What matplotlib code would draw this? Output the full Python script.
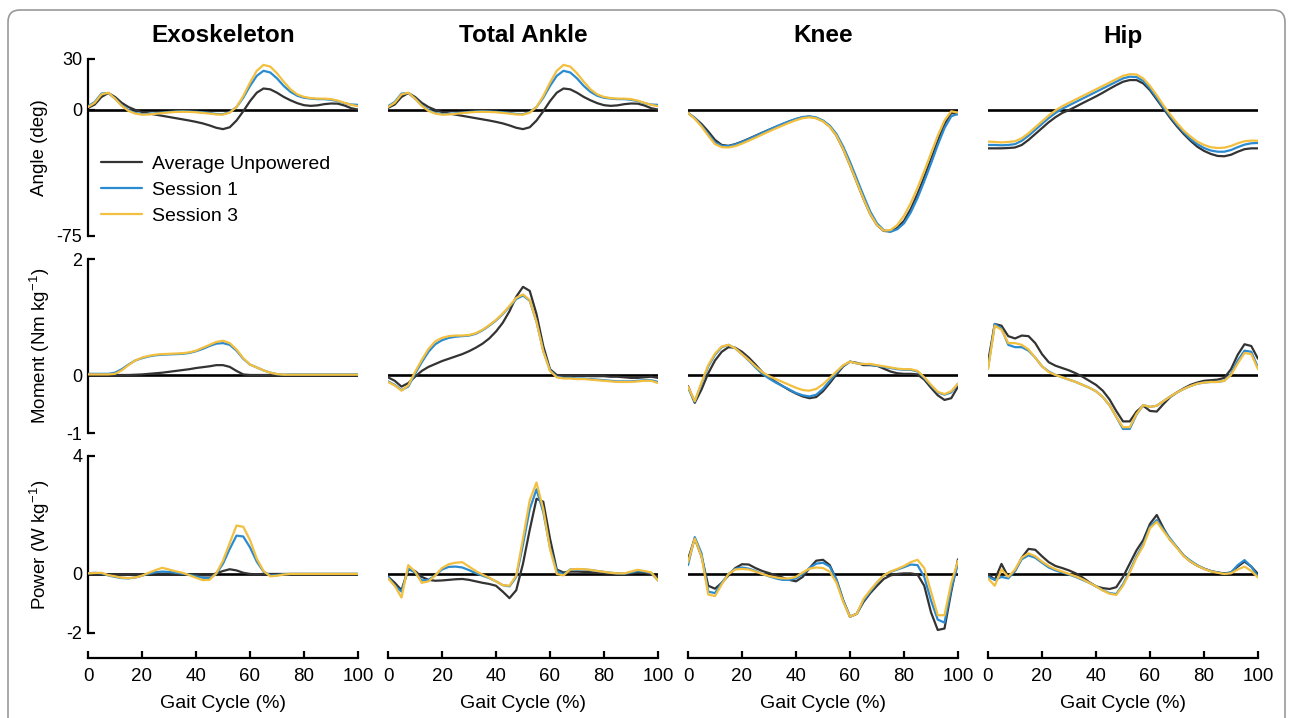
import numpy as np
import matplotlib
matplotlib.use("Agg")
import matplotlib.pyplot as plt
from matplotlib.patches import FancyBboxPatch

plt.rcParams['font.family'] = ['Liberation Sans', 'DejaVu Sans']
plt.rcParams['mathtext.fontset'] = 'custom'
plt.rcParams['mathtext.rm'] = 'Liberation Sans'
plt.rcParams['axes.unicode_minus'] = False

# gait cycle sample points (%)
gait = np.linspace(0, 100, 41)

joints = ["Exoskeleton", "Total Ankle", "Knee", "Hip"]
series_names = ["Average Unpowered", "Session 1", "Session 3"]
row_labels = ["Angle (deg)", "Moment (Nm kg$^{-1}$)", "Power (W kg$^{-1}$)"]

# ---- angles (deg) ----
exo_angle_unp = [1, 3, 7.5, 9.8, 7.5, 4, 1.5, -0.2, -1.5, -2.3, -3, -3.7, -4.4, -5.1, -5.8, -6.5, -7.3, -8.2, -9.4, -10.8,
                 -11.6, -10.5, -6.5, -1, 5, 10, 12.5, 12, 10, 7.5, 5.5, 3.8, 2.6, 2.2, 2.5, 3.2, 3.6, 3.5, 2.4, 0.8, 0]
exo_angle_s1 = [2, 4.5, 9.5, 9.8, 6.5, 2.5, -0.3, -2, -2.7, -2.6, -2.2, -1.8, -1.4, -1.1, -1, -1.1, -1.3, -1.6, -2, -2.6,
                -2.7, -1.5, 1.5, 7, 14, 20, 23, 22, 18.5, 14, 10.5, 8.2, 7, 6.5, 6.2, 6.2, 5.8, 5, 3.8, 3, 2.8]
exo_angle_s3 = [1.5, 4, 9, 10, 6.5, 2.2, -0.8, -2.4, -3, -2.9, -2.5, -2.1, -1.7, -1.4, -1.3, -1.4, -1.6, -2, -2.4, -2.9,
                -3, -1.8, 1.5, 8, 16, 23, 26.5, 25.5, 21.5, 16.5, 12, 9, 7.5, 6.8, 6.5, 6.5, 6.2, 5.3, 4, 2.8, 2]
# total ankle angle follows the exoskeleton angle
ankle_angle_unp = exo_angle_unp
ankle_angle_s1 = exo_angle_s1
ankle_angle_s3 = exo_angle_s3
knee_angle_unp = [-2, -5, -8.5, -13, -18, -21, -21.5, -20.5, -19, -17.3, -15.5, -13.7, -12, -10.3, -8.7, -7.1, -5.7, -4.6, -4.2, -5,
                  -6.8, -10, -15.5, -23.5, -33, -43, -53, -62, -68.5, -72, -72.3, -70.2, -66, -59, -50, -40, -29.5, -18.5, -8.5, -2, -2.8]
knee_angle_s1 = [-2, -5, -9.5, -14.5, -19.5, -21.5, -21.7, -20.7, -19.2, -17.5, -15.7, -13.8, -12, -10.2, -8.5, -6.9, -5.5, -4.4, -4, -4.7,
                 -6.5, -9.5, -14.5, -22, -31, -41, -51, -60.5, -67.5, -71.5, -72.5, -71, -67.5, -61, -52.5, -42.5, -32, -21, -11, -4, -2.5]
knee_angle_s3 = [-2, -5.5, -10, -15.5, -20.5, -22.3, -22.5, -21.7, -20.2, -18.5, -16.7, -14.8, -13, -11.2, -9.5, -7.8, -6.3, -5.1, -4.6, -5.2,
                 -7, -10.2, -15.5, -23.5, -33, -43, -53, -62, -68.5, -71.8, -71.5, -68.5, -63, -55.5, -46.5, -36.5, -26, -15.5, -6.5, -1, -1.8]
hip_angle_unp = [-23, -23, -23, -22.8, -22.5, -21, -18, -14.5, -11, -7.5, -4.5, -2, -0.3, 1.7, 3.8, 5.8, 7.8, 10, 12.3, 14.5,
                 16.5, 17.5, 17.5, 15.5, 11.5, 6, 0.5, -5, -10, -14.5, -18.5, -22, -24.5, -26.3, -27.5, -27.7, -26.8, -25, -23.5, -23, -23]
hip_angle_s1 = [-21, -21, -21.2, -21, -20.5, -18.5, -15.5, -12, -8.5, -5, -2, 0.5, 2.5, 4.5, 6.5, 8.5, 10.5, 12.5, 14.5, 16.5,
                18.5, 19.5, 19.3, 17, 12.5, 7, 1.2, -4, -9, -13.5, -17.5, -20.5, -22.8, -24.3, -25, -25, -24, -22.3, -20.8, -20, -19.8]
hip_angle_s3 = [-19, -19.2, -19.5, -19.2, -18.8, -17, -14, -10.5, -7, -3.5, -0.5, 2, 4, 6, 8, 10, 12, 14, 16, 18,
                20, 21, 20.8, 18.5, 14, 8.5, 2.5, -3, -8, -12.5, -16, -19, -21, -22.3, -22.8, -22.6, -21.6, -20, -18.8, -18.4, -18.5]

# ---- moments (Nm/kg) ----
exo_mom_unp = [0, 0, 0, 0, 0, 0, 0, 0.005, 0.01, 0.02, 0.03, 0.04, 0.055, 0.07, 0.085, 0.1, 0.12, 0.135, 0.15, 0.17,
               0.17, 0.14, 0.07, 0.01, 0, 0, 0, 0, 0, 0, 0, 0, 0, 0, 0, 0, 0, 0, 0, 0, 0]
exo_mom_s1 = [0.02, 0.02, 0.02, 0.02, 0.04, 0.1, 0.18, 0.25, 0.29, 0.32, 0.34, 0.35, 0.355, 0.36, 0.365, 0.38, 0.41, 0.45, 0.5, 0.54,
              0.55, 0.52, 0.42, 0.28, 0.18, 0.13, 0.08, 0.04, 0.015, 0.005, 0.01, 0.01, 0.01, 0.01, 0.01, 0.01, 0.01, 0.01, 0.01, 0.01, 0.01]
exo_mom_s3 = [0.01, 0.01, 0.01, 0.01, 0.02, 0.08, 0.17, 0.25, 0.3, 0.33, 0.35, 0.36, 0.365, 0.37, 0.375, 0.39, 0.42, 0.47, 0.52, 0.57,
              0.59, 0.55, 0.44, 0.29, 0.18, 0.13, 0.08, 0.04, 0.015, 0.005, 0.005, 0.005, 0.005, 0.005, 0.005, 0.005, 0.005, 0.005, 0.005, 0.005, 0.005]
ankle_mom_unp = [-0.04, -0.1, -0.2, -0.14, -0.03, 0.07, 0.14, 0.19, 0.24, 0.28, 0.32, 0.36, 0.41, 0.47, 0.54, 0.63, 0.75, 0.9, 1.1, 1.35,
                 1.52, 1.45, 1.05, 0.5, 0.1, 0.0, -0.01, -0.01, -0.01, -0.01, -0.02, -0.02, -0.02, -0.03, -0.03, -0.04, -0.05, -0.05, -0.04, -0.03, -0.05]
ankle_mom_s1 = [-0.11, -0.17, -0.26, -0.2, 0.02, 0.22, 0.4, 0.53, 0.6, 0.64, 0.66, 0.67, 0.68, 0.71, 0.77, 0.85, 0.94, 1.05, 1.18, 1.31,
                1.37, 1.28, 0.92, 0.42, 0.08, -0.03, -0.05, -0.05, -0.06, -0.06, -0.07, -0.08, -0.09, -0.1, -0.11, -0.11, -0.11, -0.1, -0.09, -0.09, -0.12]
ankle_mom_s3 = [-0.12, -0.18, -0.27, -0.18, 0.05, 0.26, 0.45, 0.58, 0.64, 0.67, 0.68, 0.68, 0.69, 0.72, 0.78, 0.86, 0.95, 1.06, 1.19, 1.33,
                1.39, 1.29, 0.92, 0.41, 0.07, -0.04, -0.06, -0.06, -0.07, -0.07, -0.08, -0.09, -0.1, -0.11, -0.12, -0.12, -0.12, -0.11, -0.1, -0.1, -0.14]
knee_mom_unp = [-0.19, -0.48, -0.25, 0.03, 0.25, 0.4, 0.48, 0.47, 0.4, 0.3, 0.18, 0.05, -0.04, -0.12, -0.19, -0.26, -0.32, -0.37, -0.4, -0.38,
                -0.28, -0.14, 0.01, 0.15, 0.23, 0.21, 0.17, 0.17, 0.16, 0.11, 0.06, 0.03, 0.02, 0.02, 0.01, -0.08, -0.22, -0.35, -0.43, -0.4, -0.2]
knee_mom_s1 = [-0.22, -0.46, -0.15, 0.15, 0.35, 0.48, 0.52, 0.46, 0.36, 0.25, 0.13, 0.02, -0.06, -0.13, -0.19, -0.25, -0.31, -0.35, -0.37, -0.34,
               -0.24, -0.1, 0.04, 0.16, 0.23, 0.2, 0.19, 0.18, 0.16, 0.14, 0.12, 0.1, 0.09, 0.09, 0.06, -0.05, -0.18, -0.3, -0.34, -0.3, -0.15]
knee_mom_s3 = [-0.2, -0.45, -0.13, 0.17, 0.37, 0.49, 0.52, 0.46, 0.36, 0.26, 0.15, 0.05, -0.02, -0.07, -0.12, -0.17, -0.22, -0.26, -0.27, -0.24,
               -0.16, -0.05, 0.06, 0.17, 0.23, 0.2, 0.19, 0.19, 0.17, 0.15, 0.13, 0.11, 0.1, 0.1, 0.07, -0.04, -0.17, -0.29, -0.33, -0.28, -0.15]
hip_mom_unp = [0.22, 0.88, 0.85, 0.67, 0.63, 0.68, 0.67, 0.55, 0.36, 0.22, 0.16, 0.12, 0.08, 0.03, -0.03, -0.1, -0.17, -0.27, -0.42, -0.62,
               -0.8, -0.8, -0.63, -0.53, -0.62, -0.63, -0.5, -0.38, -0.3, -0.23, -0.17, -0.13, -0.1, -0.09, -0.08, -0.05, 0.1, 0.35, 0.53, 0.5, 0.28]
hip_mom_s1 = [0.12, 0.88, 0.8, 0.52, 0.48, 0.48, 0.42, 0.3, 0.15, 0.06, 0.0, -0.04, -0.08, -0.12, -0.17, -0.22, -0.28, -0.38, -0.52, -0.72,
              -0.93, -0.93, -0.68, -0.52, -0.55, -0.53, -0.45, -0.37, -0.3, -0.24, -0.19, -0.15, -0.13, -0.12, -0.12, -0.1, 0.02, 0.25, 0.42, 0.4, 0.13]
hip_mom_s3 = [0.1, 0.85, 0.78, 0.55, 0.55, 0.52, 0.44, 0.3, 0.15, 0.05, 0.0, -0.04, -0.08, -0.12, -0.17, -0.22, -0.28, -0.38, -0.52, -0.72,
              -0.9, -0.9, -0.67, -0.52, -0.55, -0.53, -0.45, -0.37, -0.3, -0.24, -0.19, -0.15, -0.13, -0.12, -0.12, -0.1, 0.0, 0.2, 0.38, 0.36, 0.1]

# ---- powers (W/kg) ----
exo_pow_unp = [0, 0.01, 0.01, -0.03, -0.04, -0.04, -0.03, -0.02, -0.01, 0, 0.01, 0.01, 0.01, 0, -0.01, -0.02, -0.03, -0.05, -0.05, 0.02,
               0.1, 0.16, 0.12, 0.04, 0, -0.01, 0, 0, 0, 0, 0, 0, 0, 0, 0, 0, 0, 0, 0, 0, 0]
exo_pow_s1 = [0.02, 0.04, 0.02, -0.05, -0.1, -0.14, -0.15, -0.12, -0.06, 0.01, 0.06, 0.08, 0.07, 0.04, 0.01, -0.03, -0.08, -0.13, -0.14, 0.0,
              0.35, 0.85, 1.3, 1.27, 0.9, 0.42, 0.08, -0.05, -0.04, -0.01, 0, 0, 0, 0, 0, 0, 0, 0, 0, 0, 0]
exo_pow_s3 = [0.02, 0.03, 0.04, -0.04, -0.08, -0.13, -0.14, -0.12, -0.06, 0.04, 0.13, 0.21, 0.15, 0.09, 0.04, -0.04, -0.13, -0.21, -0.2, 0.02,
              0.45, 1.05, 1.64, 1.6, 1.15, 0.52, 0.1, -0.08, -0.06, -0.02, 0, 0, 0, 0, 0, 0, 0, 0, 0, 0, 0]
ankle_pow_unp = [-0.09, -0.3, -0.55, 0.15, 0.1, -0.1, -0.2, -0.23, -0.22, -0.2, -0.18, -0.17, -0.2, -0.25, -0.3, -0.34, -0.4, -0.6, -0.82, -0.55,
                 0.35, 1.5, 2.55, 2.45, 1.2, 0.15, 0.05, 0.08, 0.08, 0.07, 0.06, 0.04, 0.02, 0.01, 0, -0.01, 0.02, 0.04, 0.03, 0.0, -0.12]
ankle_pow_s1 = [-0.1, -0.4, -0.6, 0.18, 0.05, -0.22, -0.2, -0.05, 0.15, 0.24, 0.25, 0.22, 0.13, 0.03, -0.06, -0.14, -0.25, -0.38, -0.42, -0.1,
                1.0, 2.2, 2.87, 2.1, 0.9, 0.1, -0.02, 0.15, 0.16, 0.15, 0.13, 0.1, 0.07, 0.04, 0.02, 0.01, 0.05, 0.1, 0.08, 0.03, -0.22]
ankle_pow_s3 = [-0.15, -0.4, -0.8, 0.3, 0.08, -0.3, -0.25, -0.05, 0.2, 0.33, 0.38, 0.4, 0.25, 0.1, -0.02, -0.13, -0.25, -0.38, -0.4, -0.05,
                1.2, 2.5, 3.1, 2.2, 0.85, 0.0, -0.05, 0.15, 0.17, 0.16, 0.14, 0.1, 0.07, 0.04, 0.02, 0.02, 0.08, 0.14, 0.1, 0.05, -0.22]
knee_pow_unp = [0.5, 1.2, 0.6, -0.4, -0.5, -0.3, -0.05, 0.2, 0.33, 0.32, 0.2, 0.1, 0.03, -0.05, -0.12, -0.2, -0.25, -0.1, 0.2, 0.45,
                0.48, 0.3, -0.2, -0.9, -1.45, -1.35, -0.95, -0.65, -0.4, -0.17, -0.05, 0.0, 0.02, 0.02, -0.02, -0.4, -1.3, -1.9, -1.85, -0.6, 0.5]
knee_pow_s1 = [0.3, 1.25, 0.7, -0.6, -0.65, -0.3, 0.0, 0.17, 0.22, 0.18, 0.1, 0.0, -0.08, -0.15, -0.2, -0.2, -0.15, 0.0, 0.2, 0.35,
               0.38, 0.25, -0.2, -0.9, -1.45, -1.35, -0.9, -0.6, -0.3, -0.05, 0.07, 0.15, 0.23, 0.32, 0.3, -0.1, -0.9, -1.55, -1.65, -0.5, 0.35]
knee_pow_s3 = [0.4, 1.2, 0.6, -0.7, -0.75, -0.35, 0.0, 0.15, 0.17, 0.15, 0.08, 0.0, -0.07, -0.12, -0.15, -0.15, -0.1, 0.05, 0.18, 0.22,
               0.2, 0.08, -0.3, -0.95, -1.45, -1.35, -0.85, -0.55, -0.28, -0.05, 0.08, 0.17, 0.27, 0.4, 0.48, 0.2, -0.6, -1.4, -1.4, -0.3, 0.45]
hip_pow_unp = [0.0, -0.2, 0.34, -0.1, 0.1, 0.55, 0.85, 0.82, 0.6, 0.4, 0.27, 0.2, 0.12, 0.02, -0.12, -0.28, -0.42, -0.48, -0.51, -0.45,
               -0.1, 0.35, 0.8, 1.15, 1.7, 2.0, 1.55, 1.15, 0.9, 0.62, 0.42, 0.28, 0.18, 0.1, 0.05, 0.02, 0.05, 0.25, 0.42, 0.25, 0.0]
hip_pow_s1 = [-0.1, -0.2, -0.1, -0.15, 0.1, 0.5, 0.63, 0.55, 0.38, 0.22, 0.12, 0.05, -0.02, -0.1, -0.2, -0.3, -0.42, -0.55, -0.65, -0.68,
              -0.35, 0.1, 0.6, 1.0, 1.6, 1.83, 1.5, 1.2, 0.9, 0.62, 0.45, 0.3, 0.18, 0.1, 0.05, 0.0, 0.05, 0.3, 0.47, 0.25, -0.1]
hip_pow_s3 = [-0.15, -0.4, 0.15, -0.1, 0.15, 0.55, 0.7, 0.6, 0.42, 0.27, 0.16, 0.08, 0.0, -0.08, -0.18, -0.3, -0.42, -0.56, -0.67, -0.71,
              -0.4, 0.05, 0.55, 0.95, 1.55, 1.77, 1.45, 1.15, 0.88, 0.6, 0.42, 0.28, 0.17, 0.09, 0.04, 0.0, 0.02, 0.15, 0.25, 0.1, -0.12]

panels = [
    [(exo_angle_unp, exo_angle_s1, exo_angle_s3), (ankle_angle_unp, ankle_angle_s1, ankle_angle_s3),
     (knee_angle_unp, knee_angle_s1, knee_angle_s3), (hip_angle_unp, hip_angle_s1, hip_angle_s3)],
    [(exo_mom_unp, exo_mom_s1, exo_mom_s3), (ankle_mom_unp, ankle_mom_s1, ankle_mom_s3),
     (knee_mom_unp, knee_mom_s1, knee_mom_s3), (hip_mom_unp, hip_mom_s1, hip_mom_s3)],
    [(exo_pow_unp, exo_pow_s1, exo_pow_s3), (ankle_pow_unp, ankle_pow_s1, ankle_pow_s3),
     (knee_pow_unp, knee_pow_s1, knee_pow_s3), (hip_pow_unp, hip_pow_s1, hip_pow_s3)],
]

yticks = [[-75, 0, 30], [-1, 0, 2], [-2, 0, 4]]
ylims = [(-75, 30), (-1, 2), (-2.85, 4)]
colors = ['#333333', '#2b8bd0', '#f3bf3f']

W, H = 1292, 718
fig = plt.figure(figsize=(W / 100, H / 100), dpi=100)

col_left = [88, 388, 688, 988]
col_w = 270
row_top = [59, 259, 456]
row_bot = [236, 433, 658]
ylabel_mid = [148, 346, 545]

for r in range(3):
    for c in range(4):
        ax = fig.add_axes([col_left[c] / W, 1 - row_bot[r] / H, col_w / W, (row_bot[r] - row_top[r]) / H])
        ax.axhline(0, color='black', lw=1.9, zorder=1)
        lines = []
        for k in range(3):
            ln, = ax.plot(gait, panels[r][c][k], color=colors[k], lw=1.6, zorder=2 + k,
                          solid_joinstyle='round', solid_capstyle='round')
            lines.append(ln)
        ax.set_xlim(0, 100)
        ax.set_ylim(*ylims[r])
        ax.spines['top'].set_visible(False)
        ax.spines['right'].set_visible(False)
        for s in ax.spines.values():
            s.set_linewidth(1.6)
        ax.tick_params(direction='in', length=5, width=1.6, labelsize=13, pad=4)
        if r < 2:
            ax.spines['bottom'].set_visible(False)
            ax.set_xticks([])
        else:
            ax.set_xticks([0, 20, 40, 60, 80, 100])
            ax.spines['bottom'].set_bounds(0, 100)
            ax.tick_params(axis='x', pad=7, labelsize=13.5)
        if c > 0:
            ax.spines['left'].set_visible(False)
            ax.set_yticks([])
        else:
            ax.set_yticks(yticks[r])
            ax.set_yticklabels([str(v) for v in yticks[r]])
            ax.spines['left'].set_bounds(yticks[r][0], yticks[r][-1])
        if r == 0 and c == 0:
            ax.legend(lines, series_names, loc='upper left', bbox_to_anchor=(0.048, 0.455), frameon=False,
                      fontsize=14, handlelength=2.1, handletextpad=0.55, labelspacing=0.42,
                      borderpad=0, borderaxespad=0)

for c in range(4):
    xc = (col_left[c] + col_w / 2) / W
    fig.text(xc, 1 - 36 / H, joints[c], ha='center', va='center', fontsize=17.5, fontweight='bold')
    fig.text(xc, 1 - 703 / H, "Gait Cycle (%)", ha='center', va='center', fontsize=14)

for r in range(3):
    fig.text(40 / W, 1 - ylabel_mid[r] / H, row_labels[r], rotation=90, ha='center', va='center', fontsize=13.5)

# rounded frame round the whole figure
frame = FancyBboxPatch((0.08, -0.3), 12.77, 7.18 - 0.1 + 0.3, boxstyle="round,pad=0,rounding_size=0.12",
                       transform=fig.dpi_scale_trans, fc='none', ec='#999999', lw=1.2)
fig.add_artist(frame)

fig.savefig("out.png", dpi=100)
